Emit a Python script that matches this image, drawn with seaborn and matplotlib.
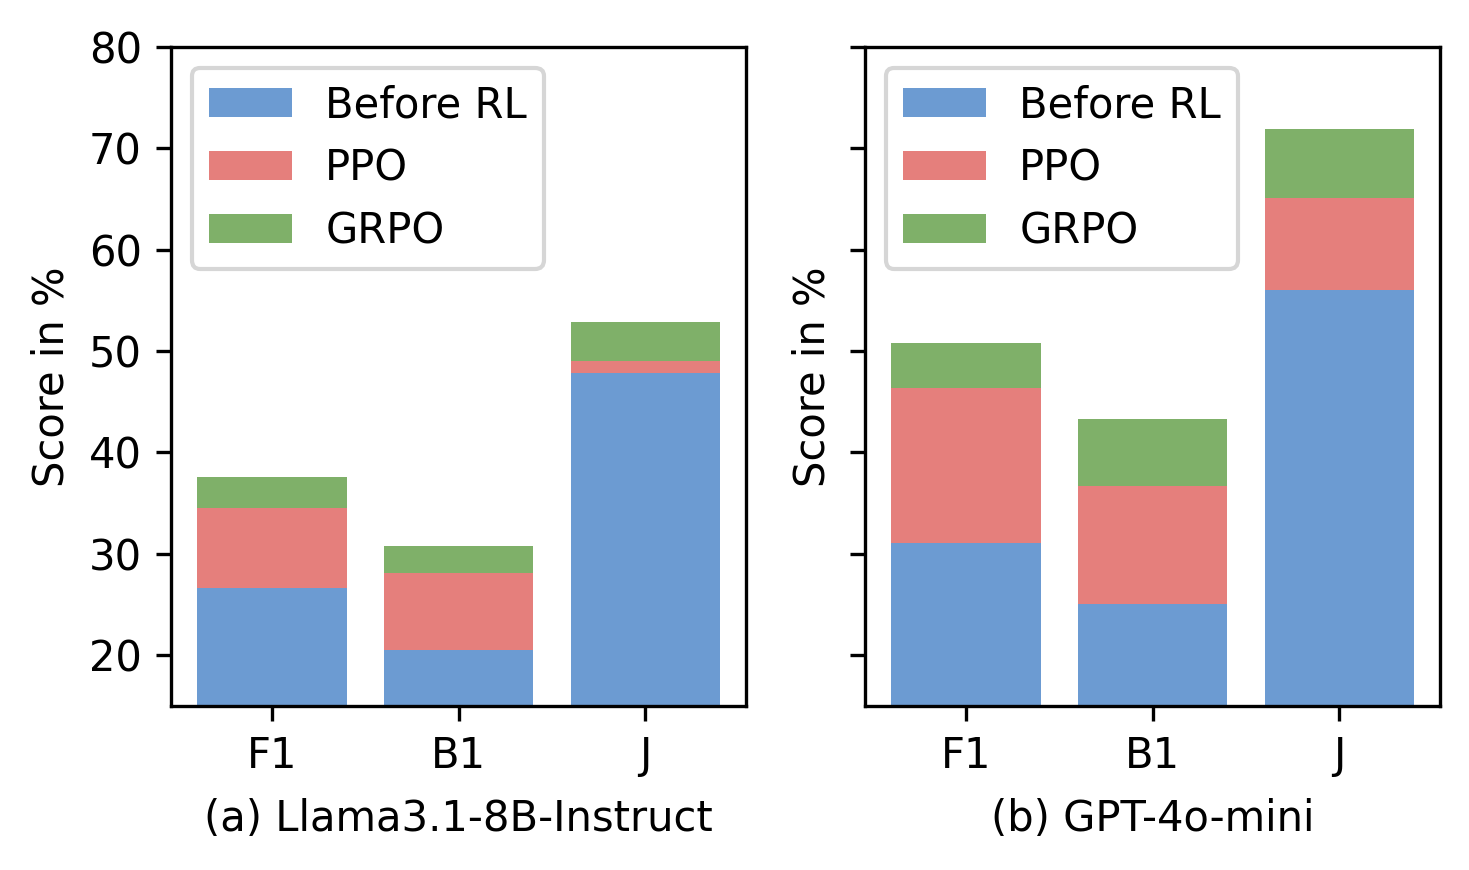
import seaborn as sns
import pandas as pd
import matplotlib.pyplot as plt

metrics = ["F1", "B1", "J"]
llama_before = [26.6, 20.5, 47.8]
llama_ppo = [34.5, 28.1, 49.0]
llama_grpo = [37.6, 30.7, 52.9]
gpt_before = [31.0, 25.0, 56.0]
gpt_ppo = [46.3, 36.7, 65.1]
gpt_grpo = [50.8, 43.3, 71.9]

colors = {"Before RL": "#6c9bd2", "PPO": "#e57f7c", "GRPO": "#7fb069"}

panels = [
    ("(a) Llama3.1-8B-Instruct", pd.DataFrame({"metric": metrics, "Before RL": llama_before, "PPO": llama_ppo, "GRPO": llama_grpo})),
    ("(b) GPT-4o-mini", pd.DataFrame({"metric": metrics, "Before RL": gpt_before, "PPO": gpt_ppo, "GRPO": gpt_grpo})),
]

fig, axes = plt.subplots(1, 2, figsize=(4.897, 2.9), dpi=300, sharey=True)

for ax, (caption, df) in zip(axes, panels):
    # draw tallest first so the shorter bars sit on top
    for name in ["GRPO", "PPO", "Before RL"]:
        sns.barplot(data=df, x="metric", y=name, color=colors[name], label=name,
                    width=0.8, saturation=1, linewidth=0, ax=ax)
    ax.set_ylim(15, 80)
    ax.set_xlim(-0.54, 2.54)
    ax.set_xlabel(caption, fontsize=10, labelpad=5)
    ax.set_ylabel("Score in %", fontsize=10)
    ax.tick_params(labelsize=10)
    ax.yaxis.set_tick_params(labelleft=(ax is axes[0]))
    h, l = ax.get_legend_handles_labels()
    order = [l.index(n) for n in ["Before RL", "PPO", "GRPO"]]
    ax.legend([h[i] for i in order], [l[i] for i in order], loc="upper left", fontsize=10)

axes[1].yaxis.label.set_visible(True)
plt.subplots_adjust(left=0.1164, right=0.9803, top=0.946, bottom=0.189, wspace=0.207)
fig.savefig("out.png", dpi=300)
